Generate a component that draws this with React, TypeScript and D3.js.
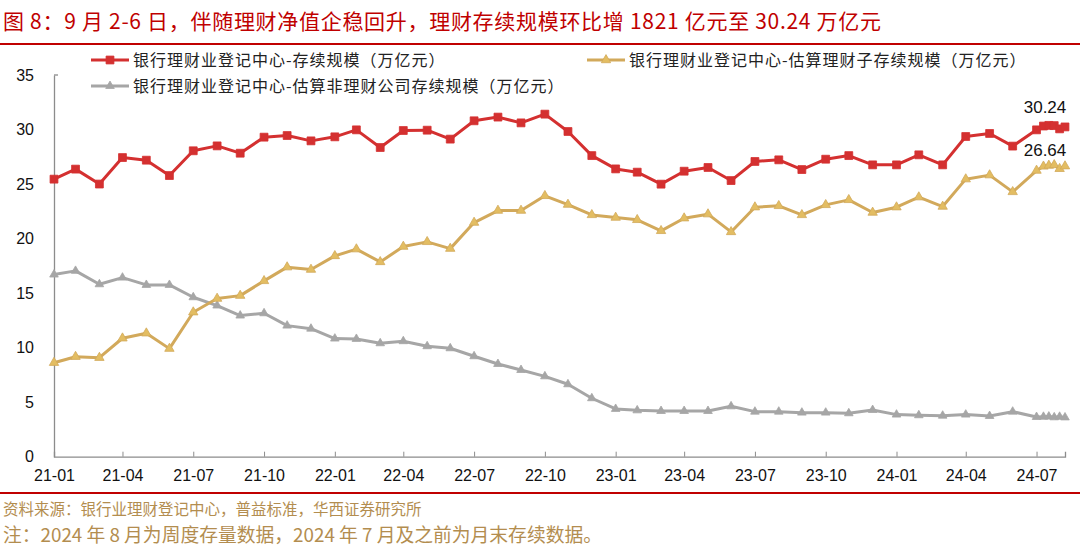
import React, { useRef, useEffect } from 'react';
import * as d3 from 'd3';

// 月末 + 8 月周度日期
const dates = [
  '2021-01-31', '2021-02-28', '2021-03-31', '2021-04-30', '2021-05-31', '2021-06-30',
  '2021-07-31', '2021-08-31', '2021-09-30', '2021-10-31', '2021-11-30', '2021-12-31',
  '2022-01-31', '2022-02-28', '2022-03-31', '2022-04-30', '2022-05-31', '2022-06-30',
  '2022-07-31', '2022-08-31', '2022-09-30', '2022-10-31', '2022-11-30', '2022-12-31',
  '2023-01-31', '2023-02-28', '2023-03-31', '2023-04-30', '2023-05-31', '2023-06-30',
  '2023-07-31', '2023-08-31', '2023-09-30', '2023-10-31', '2023-11-30', '2023-12-31',
  '2024-01-31', '2024-02-29', '2024-03-31', '2024-04-30', '2024-05-31', '2024-06-30',
  '2024-07-31', '2024-08-09', '2024-08-16', '2024-08-23', '2024-08-30', '2024-09-06',
];

const totalScale = [
  25.45, 26.37, 25.0, 27.43, 27.19, 25.78, 28.05, 28.5, 27.83, 29.3, 29.45, 28.96,
  29.33, 29.97, 28.35, 29.91, 29.94, 29.12, 30.8, 31.14, 30.61, 31.41, 29.82, 27.61,
  26.39, 26.09, 24.99, 26.18, 26.52, 25.32, 27.07, 27.22, 26.33, 27.28, 27.61, 26.76,
  26.76, 27.68, 26.76, 29.36, 29.64, 28.48, 29.97, 30.32, 30.38, 30.36, 30.06, 30.24,
];

const subsidiaryScale = [
  8.62, 9.17, 9.08, 10.86, 11.32, 9.91, 13.25, 14.5, 14.77, 16.12, 17.38, 17.16,
  18.41, 19.03, 17.86, 19.27, 19.7, 19.08, 21.47, 22.57, 22.57, 23.92, 23.12, 22.17,
  21.93, 21.72, 20.71, 21.87, 22.24, 20.61, 22.88, 23.0, 22.17, 23.09, 23.55, 22.39,
  22.88, 23.8, 22.94, 25.45, 25.82, 24.28, 26.24, 26.62, 26.7, 26.75, 26.4, 26.64,
];

const otherScale = [
  16.7, 17.04, 15.81, 16.42, 15.75, 15.75, 14.62, 13.86, 12.94, 13.15, 12.02, 11.74,
  10.83, 10.8, 10.4, 10.59, 10.13, 9.94, 9.21, 8.5, 7.95, 7.37, 6.64, 5.36,
  4.38, 4.25, 4.19, 4.19, 4.19, 4.62, 4.13, 4.13, 4.04, 4.04, 3.98, 4.28,
  3.86, 3.8, 3.76, 3.86, 3.73, 4.13, 3.64, 3.66, 3.68, 3.61, 3.66, 3.6,
];

const yTicks = [0, 5, 10, 15, 20, 25, 30, 35];

const title = '图 8：9 月 2-6 日，伴随理财净值企稳回升，理财存续规模环比增 1821 亿元至 30.24 万亿元';
const legendNames = [
  '银行理财业登记中心-存续规模（万亿元）',
  '银行理财业登记中心-估算理财子存续规模（万亿元）',
  '银行理财业登记中心-估算非理财公司存续规模（万亿元）',
];
const source = '资料来源：银行业理财登记中心，普益标准，华西证券研究所';
const note = '注：2024 年 8 月为周度存量数据，2024 年 7 月及之前为月末存续数据。';

const W = 1080;
const H = 546;
const CJK = '"Noto Sans CJK SC", sans-serif';
const NUM = '"Liberation Sans", Arial, sans-serif';

const App = () => {
  const ref = useRef<SVGSVGElement | null>(null);

  useEffect(() => {
    if (!ref.current) return;
    const svg = d3.select(ref.current);
    svg.selectAll('*').remove();

    const parse = d3.timeParse('%Y-%m-%d');
    const xs = dates.map((d) => parse(d) as Date);

    const x = d3
      .scaleTime()
      .domain([xs[0], xs[xs.length - 1]])
      .range([54, 1065]);
    const y = d3.scaleLinear().domain([0, 35]).range([456.7, 75]);

    // 标题
    svg
      .append('text')
      .attr('x', 3)
      .attr('y', 29)
      .attr('fill', '#c00000')
      .style('font-family', CJK)
      .style('font-size', '21px')
      .style('letter-spacing', '0.7px')
      .text(title);
    svg.append('line').attr('x1', 0).attr('x2', W).attr('y1', 44).attr('y2', 44)
      .attr('stroke', '#c00000').attr('stroke-width', 2);

    // 坐标轴
    const yAxis = d3.axisLeft(y).tickValues(yTicks).tickSize(0).tickPadding(20);
    svg
      .append('g')
      .attr('transform', 'translate(54,0)')
      .call(yAxis)
      .call((g) => g.select('.domain').attr('stroke', '#8c8c8c').attr('stroke-width', 1.3))
      .call((g) =>
        g.selectAll('text').style('font-family', NUM).style('font-size', '16px').attr('fill', '#111'),
      );
    svg.append('line').attr('x1', 54).attr('x2', 58).attr('y1', y(35)).attr('y2', y(35))
      .attr('stroke', '#8c8c8c').attr('stroke-width', 1.3);

    const tickDates = xs.filter((d, i) => i < 43 && d.getMonth() % 3 === 0);
    const xAxis = d3
      .axisBottom(x)
      .tickValues(tickDates)
      .tickSize(-5)
      .tickPadding(13)
      .tickFormat((d) => d3.timeFormat('%y-%m')(d as Date));
    svg
      .append('g')
      .attr('transform', `translate(0,${y(0)})`)
      .call(xAxis)
      .call((g) => g.select('.domain').attr('stroke', '#8c8c8c').attr('stroke-width', 1.3))
      .call((g) => g.selectAll('.tick line').attr('stroke', '#8c8c8c'))
      .call((g) =>
        g.selectAll('text').style('font-family', NUM).style('font-size', '16px').attr('fill', '#111'),
      );

    const series = [
      { values: totalScale, color: '#d43030', shape: 'square', size: 62 },
      { values: subsidiaryScale, color: '#d2a95b', fill: '#e3bd62', shape: 'tri', size: 38 },
      { values: otherScale, color: '#a6a6a6', fill: '#a6a6a6', shape: 'tri', size: 32 },
    ];

    const drawOrder = [2, 1, 0];
    drawOrder.forEach((si) => {
      const s = series[si];
      const line = d3
        .line<number>()
        .x((_, i) => x(xs[i]))
        .y((v) => y(v));
      svg
        .append('path')
        .datum(s.values)
        .attr('fill', 'none')
        .attr('stroke', s.color)
        .attr('stroke-width', 3)
        .attr('stroke-linejoin', 'round')
        .attr('d', line);
      const sym = d3
        .symbol()
        .type(s.shape === 'square' ? d3.symbolSquare : d3.symbolTriangle)
        .size(s.size);
      svg
        .append('g')
        .selectAll('path')
        .data(s.values)
        .join('path')
        .attr('transform', (v, i) => `translate(${x(xs[i])},${y(v)})`)
        .attr('d', sym)
        .attr('fill', s.fill ?? s.color)
        .attr('stroke', s.color)
        .attr('stroke-width', 0.8);
    });

    // 末值标注
    const last = xs.length - 1;
    [
      { v: totalScale[last], dy: -14 },
      { v: subsidiaryScale[last], dy: -10 },
    ].forEach((a) => {
      svg
        .append('text')
        .attr('x', x(xs[last]) - 20)
        .attr('y', y(a.v) + a.dy)
        .attr('text-anchor', 'middle')
        .attr('fill', '#111')
        .style('font-family', NUM)
        .style('font-size', '17px')
        .text(a.v.toFixed(2));
    });

    // 图例
    const legendPos = [
      { x: 91, y: 60 },
      { x: 587, y: 60 },
      { x: 91, y: 86 },
    ];
    legendPos.forEach((p, i) => {
      const s = series[i];
      const g = svg.append('g').attr('transform', `translate(${p.x},${p.y})`);
      g.append('line').attr('x1', 0).attr('x2', 38).attr('stroke', s.color).attr('stroke-width', 3);
      g.append('path')
        .attr('transform', 'translate(19,0)')
        .attr('d', d3.symbol().type(s.shape === 'square' ? d3.symbolSquare : d3.symbolTriangle).size(s.size)())
        .attr('fill', s.fill ?? s.color)
        .attr('stroke', s.color)
        .attr('stroke-width', 0.8);
      g.append('text')
        .attr('x', 42)
        .attr('y', 0)
        .attr('dy', '0.35em')
        .attr('fill', '#222')
        .style('font-family', CJK)
        .style('font-size', '16px')
        .style('letter-spacing', '1px')
        .text(legendNames[i]);
    });

    // 脚注
    svg.append('line').attr('x1', 0).attr('x2', W).attr('y1', 493).attr('y2', 493)
      .attr('stroke', '#c00000').attr('stroke-width', 2);
    svg
      .append('text')
      .attr('x', 3)
      .attr('y', 515)
      .attr('fill', '#b38d4f')
      .style('font-family', CJK)
      .style('font-size', '15.5px')
      .text(source);
    svg
      .append('text')
      .attr('x', 3)
      .attr('y', 542)
      .attr('fill', '#b38d4f')
      .style('font-family', CJK)
      .style('font-size', '18.8px')
      .text(note);
  }, []);

  return (
    <svg
      ref={ref}
      width={W}
      height={H}
      style={{ position: 'absolute', left: 0, top: 0, background: '#fff' }}
    />
  );
};

export default App;
